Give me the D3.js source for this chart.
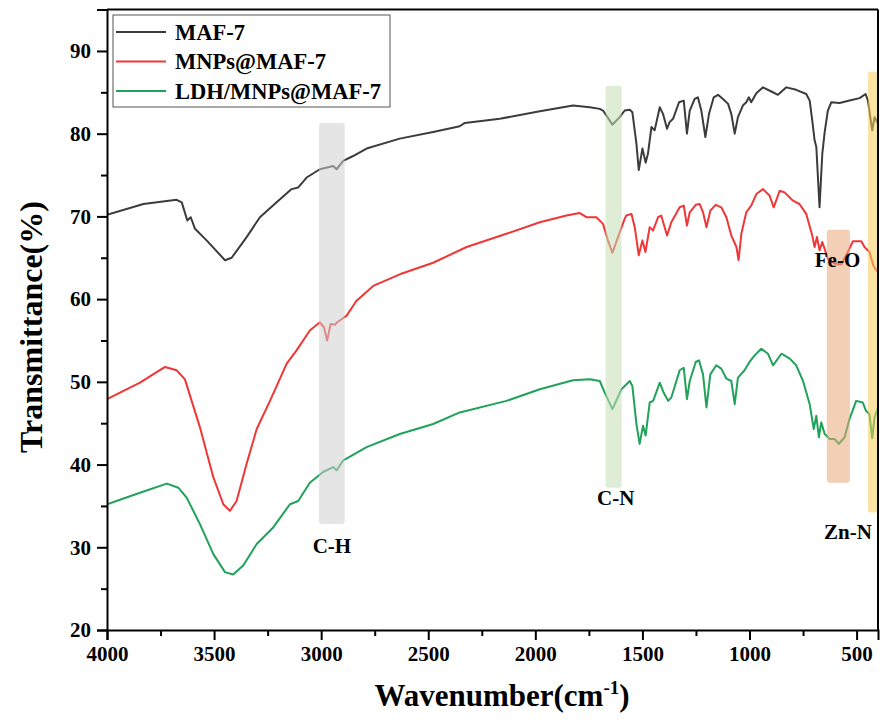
<!DOCTYPE html>
<html lang="en">
<head>
    <meta charset="UTF-8">
    <title>FTIR spectra</title>
    <script src="https://d3js.org/d3.v7.min.js"></script>
    <style>
        body { margin: 0; background: #fff; }
        svg text { font-family: "Liberation Serif", "Times New Roman", serif; font-weight: bold; }
    </style>
</head>
<body>
    <div id="chart"></div>
    <script>
        // series names and colours
        const seriesNames = ["MAF-7", "MNPs@MAF-7", "LDH/MNPs@MAF-7"];

        // MAF-7
        const wnMAF = [4000, 3830, 3675, 3651, 3625, 3609, 3589, 3535, 3449, 3418, 3348, 3286, 3208, 3138, 3107, 3068, 3006, 2944, 2928, 2897, 2851, 2788, 2633, 2477, 2353, 2329, 2166, 1979, 1824, 1746, 1699, 1684, 1640, 1606, 1583, 1559, 1547, 1528, 1517, 1500, 1485, 1474, 1458, 1443, 1419, 1404, 1385, 1373, 1357, 1329, 1307, 1292, 1279, 1256, 1241, 1225, 1206, 1189, 1167, 1147, 1124, 1100, 1085, 1069, 1054, 1031, 1015, 1003, 992, 968, 937, 898, 867, 828, 782, 735, 719, 707, 696, 688, 673, 660, 649, 634, 618, 579, 533, 486, 458, 447, 427, 416, 400];
        const tMAF = [70.2, 71.5, 72.0, 71.7, 69.5, 69.9, 68.5, 67.1, 64.7, 65.0, 67.5, 69.9, 71.7, 73.3, 73.5, 74.7, 75.7, 76.1, 75.7, 76.7, 77.3, 78.2, 79.4, 80.2, 80.9, 81.3, 81.8, 82.7, 83.4, 83.2, 83.0, 82.8, 81.1, 82.0, 82.8, 82.9, 82.6, 78.8, 75.6, 78.2, 76.5, 77.6, 80.8, 80.4, 83.2, 82.4, 80.6, 81.4, 81.8, 83.8, 84.0, 80.0, 82.8, 84.2, 84.4, 82.8, 79.6, 82.4, 84.4, 84.7, 84.2, 83.6, 82.4, 80.0, 82.0, 83.4, 83.8, 84.4, 83.8, 84.9, 85.6, 85.1, 84.7, 85.6, 85.3, 84.8, 84.0, 81.6, 79.2, 78.4, 71.1, 77.6, 80.2, 82.8, 83.8, 83.7, 84.0, 84.3, 84.8, 84.0, 80.4, 82.0, 81.2];

        // MNPs@MAF-7
        const wnMNP = [4000, 3846, 3729, 3675, 3636, 3566, 3504, 3457, 3426, 3395, 3348, 3301, 3239, 3161, 3115, 3053, 3006, 2987, 2972, 2956, 2936, 2925, 2881, 2835, 2757, 2633, 2477, 2321, 2135, 1979, 1855, 1793, 1761, 1715, 1684, 1661, 1640, 1614, 1583, 1575, 1551, 1536, 1517, 1500, 1486, 1466, 1450, 1427, 1412, 1401, 1385, 1365, 1326, 1307, 1292, 1279, 1251, 1233, 1217, 1201, 1183, 1158, 1132, 1108, 1085, 1061, 1051, 1038, 1015, 992, 968, 937, 906, 887, 859, 836, 797, 767, 735, 707, 696, 685, 673, 660, 634, 603, 571, 541, 517, 478, 463, 440, 421, 400];
        const tMNP = [47.9, 49.9, 51.8, 51.4, 50.3, 44.5, 38.5, 35.2, 34.4, 35.6, 40.1, 44.3, 47.7, 52.2, 53.8, 56.2, 57.2, 56.6, 55.0, 57.0, 56.9, 57.2, 58.0, 59.8, 61.6, 63.0, 64.4, 66.3, 67.9, 69.3, 70.1, 70.4, 69.9, 69.9, 69.1, 67.1, 65.6, 67.5, 69.7, 70.1, 70.3, 68.7, 65.3, 67.1, 65.7, 68.7, 68.3, 69.9, 70.1, 69.1, 67.7, 69.3, 71.1, 71.3, 68.9, 70.5, 71.4, 71.5, 70.5, 68.7, 70.7, 71.4, 71.1, 69.9, 67.7, 66.3, 64.7, 67.9, 70.5, 71.3, 72.7, 73.3, 72.5, 71.1, 73.1, 72.9, 71.9, 71.5, 70.3, 67.7, 66.3, 67.5, 65.9, 66.9, 64.9, 64.3, 64.2, 65.7, 67.0, 67.0, 66.3, 65.7, 64.0, 63.2];

        // LDH/MNPs@MAF-7
        const wnLDH = [4000, 3846, 3721, 3667, 3628, 3566, 3504, 3449, 3411, 3364, 3301, 3224, 3146, 3107, 3053, 2991, 2944, 2928, 2897, 2843, 2788, 2633, 2477, 2353, 2135, 1979, 1824, 1746, 1699, 1676, 1640, 1598, 1559, 1547, 1528, 1513, 1497, 1485, 1466, 1450, 1419, 1401, 1380, 1365, 1326, 1307, 1292, 1279, 1251, 1236, 1217, 1201, 1183, 1155, 1132, 1108, 1085, 1069, 1054, 1023, 1000, 976, 945, 914, 890, 851, 812, 782, 750, 719, 700, 688, 676, 665, 649, 626, 603, 583, 556, 533, 502, 471, 456, 440, 427, 416, 400];
        const tLDH = [35.2, 36.6, 37.7, 37.2, 36.0, 32.8, 29.2, 27.0, 26.7, 27.8, 30.4, 32.4, 35.2, 35.6, 37.8, 39.1, 39.7, 39.3, 40.5, 41.3, 42.1, 43.7, 44.9, 46.3, 47.7, 49.1, 50.2, 50.3, 50.1, 48.7, 46.7, 49.1, 50.1, 49.5, 44.9, 42.5, 44.7, 43.5, 47.5, 47.7, 49.9, 48.7, 47.7, 48.1, 51.4, 51.7, 47.9, 50.1, 52.4, 52.6, 50.9, 46.9, 50.9, 52.0, 51.6, 50.4, 50.1, 47.3, 50.5, 51.4, 52.4, 53.2, 54.0, 53.4, 52.0, 53.4, 52.8, 52.0, 50.1, 47.3, 44.3, 45.9, 43.3, 45.1, 43.7, 43.1, 43.1, 42.5, 43.3, 45.5, 47.7, 47.5, 46.5, 46.1, 43.2, 45.7, 46.9];

        // highlighted bands: label, wavenumber from/to, transmittance low/high
        const bandLabels = ["C-H", "C-N", "Fe-O", "Zn-N"];
        const bandWn = [[3010, 2890], [1672, 1597], [639, 531], [447, 400]];
        const bandT = [[32.8, 81.3], [37.2, 85.8], [37.8, 68.4], [34.2, 87.5]];

        const xTicks = [4000, 3500, 3000, 2500, 2000, 1500, 1000, 500];
        const xMinor = [3750, 3250, 2750, 2250, 1750, 1250, 750];
        const yTicks = [20, 30, 40, 50, 60, 70, 80, 90];
        const yMinor = [25, 35, 45, 55, 65, 75, 85];

        const w = 880, h = 720;
        const pLeft = 107, pRight = 878, pTop = 9.6, pBottom = 630;

        const colors = ["#3c3c3c", "#f03636", "#20a25a"];
        const bandColors = ["#d0d0d0", "#c5dfb4", "#e8a878", "#f8cc5a"];

        const x = d3.scaleLinear().domain([4000, 400]).range([pLeft, pRight]);
        const y = d3.scaleLinear().domain([20, 95]).range([pBottom, pTop]);

        const svg = d3.select("#chart").append("svg")
            .attr("width", w)
            .attr("height", h);

        svg.append("clipPath").attr("id", "plot")
            .append("rect")
            .attr("x", pLeft).attr("y", pTop)
            .attr("width", pRight - pLeft).attr("height", pBottom - pTop);

        const series = [
            {wn: wnMAF, t: tMAF},
            {wn: wnMNP, t: tMNP},
            {wn: wnLDH, t: tLDH}
        ];

        const line = d3.line()
            .x(d => x(d[0]))
            .y(d => y(d[1]));

        const plot = svg.append("g").attr("clip-path", "url(#plot)");

        series.forEach((s, i) => {
            plot.append("path")
                .datum(s.wn.map((v, j) => [v, s.t[j]]))
                .attr("d", line)
                .attr("fill", "none")
                .attr("stroke", colors[i])
                .attr("stroke-width", 2)
                .attr("stroke-linejoin", "round");
        });

        // bands sit on top of the lines, semi transparent
        plot.selectAll(".band")
            .data(bandWn)
            .enter()
            .append("rect")
            .attr("class", "band")
            .attr("x", d => x(d[0]))
            .attr("width", d => x(d[1]) - x(d[0]))
            .attr("y", (d, i) => y(bandT[i][1]))
            .attr("height", (d, i) => y(bandT[i][0]) - y(bandT[i][1]))
            .attr("rx", 3)
            .attr("fill", (d, i) => bandColors[i])
            .attr("opacity", 0.55);

        // band labels
        const labelAt = [[2950, 30.2], [1625, 35.9], [589, 64.7], [540, 31.9]];
        svg.selectAll(".blabel")
            .data(bandLabels)
            .enter()
            .append("text")
            .attr("class", "blabel")
            .attr("x", (d, i) => x(labelAt[i][0]))
            .attr("y", (d, i) => y(labelAt[i][1]))
            .attr("text-anchor", "middle")
            .attr("dominant-baseline", "central")
            .attr("font-size", 21)
            .text(d => d);

        // axes
        svg.append("g")
            .attr("transform", "translate(0," + pBottom + ")")
            .call(d3.axisBottom(x).tickValues(xTicks).tickSize(10).tickPadding(6).tickFormat(d3.format("d")));
        svg.append("g")
            .attr("transform", "translate(0," + pBottom + ")")
            .call(d3.axisBottom(x).tickValues(xMinor).tickSize(6).tickFormat(""))
            .select(".domain").remove();

        svg.append("g")
            .attr("transform", "translate(" + pLeft + ",0)")
            .call(d3.axisLeft(y).tickValues(yTicks).tickSize(10).tickPadding(6));
        svg.append("g")
            .attr("transform", "translate(" + pLeft + ",0)")
            .call(d3.axisLeft(y).tickValues(yMinor).tickSize(6).tickFormat(""))
            .select(".domain").remove();

        svg.selectAll(".tick line").attr("stroke", "#000").attr("stroke-width", 2);
        svg.selectAll(".domain").attr("stroke", "#000").attr("stroke-width", 2);
        svg.selectAll(".tick text")
            .attr("font-size", 21)
            .attr("fill", "#000")
            .style("font-family", "'Liberation Serif', 'Times New Roman', serif")
            .style("font-weight", "bold");

        // box top and right
        svg.append("line")
            .attr("x1", pLeft).attr("x2", pRight).attr("y1", pTop).attr("y2", pTop)
            .attr("stroke", "#000").attr("stroke-width", 2);
        svg.append("line")
            .attr("x1", pRight).attr("x2", pRight).attr("y1", pTop).attr("y2", pBottom)
            .attr("stroke", "#000").attr("stroke-width", 2);

        // axis titles
        const xt = svg.append("text")
            .attr("x", 502)
            .attr("y", 706)
            .attr("text-anchor", "middle")
            .attr("font-size", 31);
        xt.append("tspan").text("Wavenumber(cm");
        xt.append("tspan").attr("font-size", 19).attr("dy", -12).text("-1");
        xt.append("tspan").attr("dy", 12).text(")");

        svg.append("text")
            .attr("transform", "translate(42," + 327 + ") rotate(-90)")
            .attr("text-anchor", "middle")
            .attr("font-size", 32)
            .text("Transmittance(%)");

        // legend
        const legend = svg.append("g");
        legend.append("rect")
            .attr("x", 113).attr("y", 15)
            .attr("width", 277).attr("height", 92)
            .attr("fill", "#fff")
            .attr("stroke", "#555")
            .attr("stroke-width", 1);
        seriesNames.forEach((name, i) => {
            const ly = 32 + i * 29.5;
            legend.append("line")
                .attr("x1", 116).attr("x2", 166)
                .attr("y1", ly).attr("y2", ly)
                .attr("stroke", colors[i])
                .attr("stroke-width", 2);
            legend.append("text")
                .attr("x", 175).attr("y", ly)
                .attr("dominant-baseline", "central")
                .attr("font-size", 22.5)
                .text(name);
        });
    </script>
</body>
</html>
